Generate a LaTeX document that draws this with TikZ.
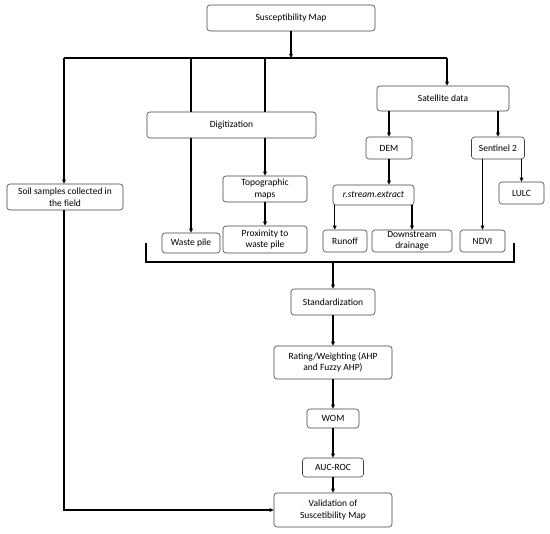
\documentclass[tikz,border=0pt]{standalone}
\usepackage{fontspec}
\setmainfont{Carlito}
\usepackage{tikz}
\usetikzlibrary{arrows.meta,positioning}

\begin{document}
\begin{tikzpicture}[x=1pt,y=-1pt,
  stepbox/.style={draw=black!75,line width=0.6pt,rounded corners=3pt,
               align=center,inner sep=1pt,font=\fontsize{9.5}{11.5}\selectfont},
  arr/.style={-{Triangle[length=4pt,width=3.6pt]},line width=1.3pt},
  line/.style={line width=1.3pt},
]
  \useasboundingbox (0,0) rectangle (550,534);

  % top
  \node[stepbox,minimum width=168,minimum height=26] (susc) at (291,18) {Susceptibility Map};
  \node[stepbox,minimum width=132,minimum height=25] (sat) at (443,98.5) {Satellite data};
  \node[stepbox,minimum width=169,minimum height=26] (digit) at (231.5,125) {Digitization};
  \node[stepbox,minimum width=46,minimum height=22] (dem) at (389,148) {DEM};
  \node[stepbox,minimum width=53,minimum height=22] (sent) at (498,148) {Sentinel 2};
  \node[stepbox,minimum width=116,minimum height=26] (soil) at (65,197) {Soil samples collected in\\the field};
  \node[stepbox,minimum width=84,minimum height=26] (topo) at (265,189) {Topographic\\maps};
  \node[stepbox,minimum width=81,minimum height=20] (rse) at (373.5,195) {\itshape r.stream.extract};
  \node[stepbox,minimum width=45,minimum height=22] (lulc) at (521.5,193) {LULC};

  % factors
  \node[stepbox,minimum width=58,minimum height=20] (waste) at (191,243) {Waste pile};
  \node[stepbox,minimum width=84,minimum height=27] (prox) at (265,239.5) {Proximity to\\waste pile};
  \node[stepbox,minimum width=44,minimum height=22] (runoff) at (345,241) {Runoff};
  \node[stepbox,minimum width=80,minimum height=22] (drain) at (412,241) {Downstream\\drainage};
  \node[stepbox,minimum width=45,minimum height=22] (ndvi) at (482.5,241) {NDVI};

  % processing
  \node[stepbox,minimum width=84,minimum height=26] (std) at (333,302) {Standardization};
  \node[stepbox,minimum width=118,minimum height=33] (rating) at (333,362.5) {Rating/Weighting (AHP\\and Fuzzy AHP)};
  \node[stepbox,minimum width=52,minimum height=19] (wom) at (333,418.5) {WOM};
  \node[stepbox,minimum width=61,minimum height=19] (auc) at (333,467.5) {AUC-ROC};
  \node[stepbox,minimum width=118,minimum height=34] (valid) at (333,510) {Validation of\\Suscetibility Map};

  \coordinate (jl) at (64,58);
  \coordinate (jr) at (447,58);
  \coordinate (bl) at (146,243);
  \coordinate (br) at (514,243);
  \coordinate (bb) at (146,262);

  \draw[line] (jl) -- (jr);
  \draw[arr] (susc.south) -- (susc.south |- jl);
  \draw[arr] (jl) -- (jl |- soil.north);
  \draw[arr] (jr) -- (jr |- sat.north);
  \draw[line] (waste.north |- jl) -- (waste.north |- digit.north);
  \draw[line] (topo.north |- jl) -- (topo.north |- digit.north);
  \draw[arr] (waste.north |- digit.south) -- (waste.north);
  \draw[arr] (topo.north |- digit.south) -- (topo.north);
  \draw[arr] (topo) -- (prox);

  \draw[arr] (dem.north |- sat.south) -- (dem.north);
  \draw[arr] (sent.north |- sat.south) -- (sent.north);
  \draw[arr] (dem.south) -- (dem.south |- rse.north);
  \draw[arr] ([xshift=2pt]rse.south west) -- ([xshift=2pt]rse.south west |- runoff.north);
  \draw[arr] (drain.north |- rse.south) -- (drain.north);
  \draw[arr] (ndvi.north |- sent.south) -- (ndvi.north);
  \draw[arr] (lulc.north |- sent.south) -- (lulc.north);

  % bracket
  \draw[line] (bl) -- (bb) -- (bb -| br) -- (br);
  \draw[arr] (std.north |- bb) -- (std.north);

  \draw[arr] (std) -- (rating);
  \draw[arr] (rating) -- (wom);
  \draw[arr] (wom) -- (auc);
  \draw[arr] (auc) -- (valid);
  \draw[arr] (jl |- soil.south) |- (valid.west);
\end{tikzpicture}
\end{document}
